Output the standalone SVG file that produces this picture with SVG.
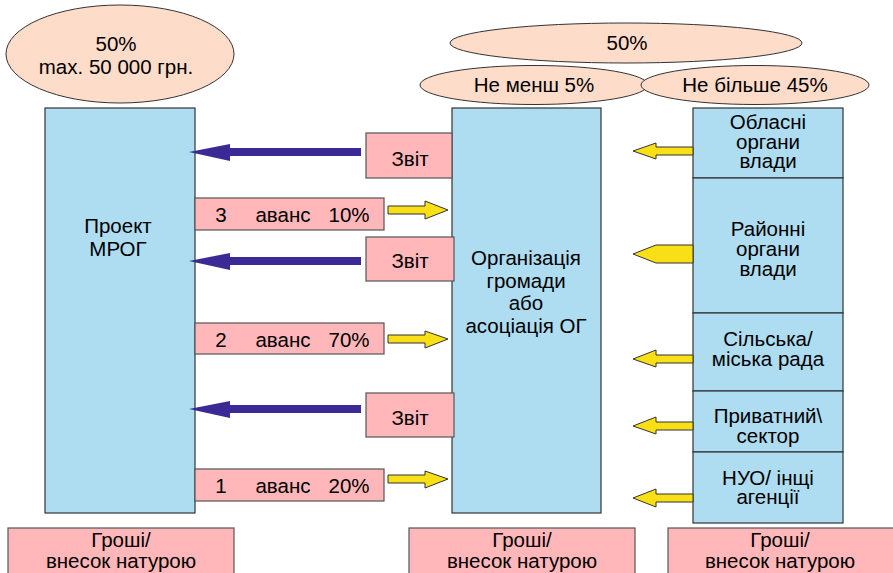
<svg xmlns="http://www.w3.org/2000/svg" width="893" height="573" viewBox="0 0 893 573">
<style>
text{font-family:"Liberation Sans",Arial,sans-serif;font-size:20.5px;fill:#000;text-anchor:middle}
.ell{fill:#FDDCCA;stroke:#333;stroke-width:1}
.blue{fill:#AEDCF0;stroke:#333;stroke-width:1.2}
.pink{fill:#FFB7BA;stroke:#555;stroke-width:1.2}
.ya{fill:#F9DF16;stroke:#333;stroke-width:1}
.ba{fill:#3B2A96}
</style>
<rect width="893" height="573" fill="#fff"/>
<g id="ellipse-left">
<ellipse class="ell" cx="120" cy="54" rx="114" ry="49"/>
<text x="116" y="51">50%</text>
<text x="116" y="74">max. 50 000 грн.</text>
</g>
<g id="ellipse-top">
<ellipse class="ell" cx="626" cy="43" rx="176" ry="20"/>
<text x="627" y="50">50%</text>
</g>
<g id="ellipse-min">
<ellipse class="ell" cx="534" cy="85" rx="114" ry="19.5"/>
<text x="534" y="92">Не менш 5%</text>
</g>
<g id="ellipse-max">
<ellipse class="ell" cx="755" cy="85" rx="114" ry="19.5"/>
<text x="755" y="92">Не більше 45%</text>
</g>
<g id="project">
<rect class="blue" x="45" y="108" width="150" height="405"/>
<text x="118" y="233">Проект</text>
<text x="118" y="256">МРОГ</text>
</g>
<g id="og">
<rect class="blue" x="452" y="108" width="149" height="405"/>
<text x="526" y="265">Організація</text>
<text x="526" y="288">громади</text>
<text x="526" y="310">або</text>
<text x="526" y="333">асоціація ОГ</text>
</g>
<g id="sources">
<rect class="blue" x="693" y="108" width="150" height="70"/>
<text x="768" y="129">Обласні</text>
<text x="768" y="149">органи</text>
<text x="768" y="168">влади</text>
<rect class="blue" x="693" y="178" width="150" height="135"/>
<text x="768" y="236">Районні</text>
<text x="768" y="256">органи</text>
<text x="768" y="276">влади</text>
<rect class="blue" x="693" y="313" width="150" height="78"/>
<text x="768" y="346">Сільська/</text>
<text x="768" y="366">міська рада</text>
<rect class="blue" x="693" y="391" width="150" height="61"/>
<text x="768" y="423">Приватний\</text>
<text x="768" y="443">сектор</text>
<rect class="blue" x="693" y="452" width="150" height="71"/>
<text x="768" y="485">НУО/ інщі</text>
<text x="768" y="504">агенції</text>
</g>
<g id="report-1">
<rect class="pink" x="366" y="133" width="86" height="45"/>
<text x="410" y="166">Звіт</text>
</g>
<g id="report-2">
<rect class="pink" x="366" y="237" width="88" height="44"/>
<text x="410" y="268">Звіт</text>
</g>
<g id="report-3">
<rect class="pink" x="366" y="393" width="88" height="44"/>
<text x="410" y="425">Звіт</text>
</g>
<g id="advance-3">
<rect class="pink" x="195" y="198" width="189" height="32"/>
<text x="221" y="222">3</text>
<text x="283" y="222">аванс</text>
<text x="349" y="222">10%</text>
</g>
<g id="advance-2">
<rect class="pink" x="195" y="323" width="189" height="31"/>
<text x="221" y="347">2</text>
<text x="283" y="347">аванс</text>
<text x="349" y="347">70%</text>
</g>
<g id="advance-1">
<rect class="pink" x="195" y="469" width="189" height="32"/>
<text x="221" y="493">1</text>
<text x="283" y="493">аванс</text>
<text x="349" y="493">20%</text>
</g>
<g id="money-left">
<rect class="pink" x="8" y="528" width="226" height="50"/>
<text x="121" y="547">Гроші/</text>
<text x="121" y="568">внесок натурою</text>
</g>
<g id="money-mid">
<rect class="pink" x="409" y="528" width="226" height="50"/>
<text x="522" y="547">Гроші/</text>
<text x="522" y="568">внесок натурою</text>
</g>
<g id="money-right">
<rect class="pink" x="668" y="528" width="230" height="50"/>
<text x="780" y="547">Гроші/</text>
<text x="780" y="568">внесок натурою</text>
</g>
<g id="connectors">
<path class="ba" d="M189,152 L230,144 L230,148 L361,148 L361,156 L230,156 L230,161 Z"/>
<path class="ba" d="M189,261 L230,253 L230,257 L361,257 L361,265 L230,265 L230,270 Z"/>
<path class="ba" d="M189,409 L230,401 L230,405 L361,405 L361,413 L230,413 L230,418 Z"/>
<path class="ya" d="M448,210 L425,201 L425,206 L388,206 L388,214 L425,214 L425,219 Z"/>
<path class="ya" d="M448,339 L425,331 L425,335 L388,335 L388,343 L425,343 L425,348 Z"/>
<path class="ya" d="M448,479 L425,471 L425,475 L388,475 L388,483 L425,483 L425,488 Z"/>
<path class="ya" d="M633,151 L656,143 L656,147 L693,147 L693,155 L656,155 L656,159 Z"/>
<path class="ya" d="M633,254 L656,245 L693,245 L693,263 L656,263 Z"/>
<path class="ya" d="M633,359 L656,350 L656,355 L693,355 L693,363 L656,363 L656,367 Z"/>
<path class="ya" d="M633,426 L656,417 L656,422 L693,422 L693,430 L656,430 L656,434 Z"/>
<path class="ya" d="M633,498 L656,489 L656,494 L693,494 L693,502 L656,502 L656,507 Z"/>
</g>
</svg>
